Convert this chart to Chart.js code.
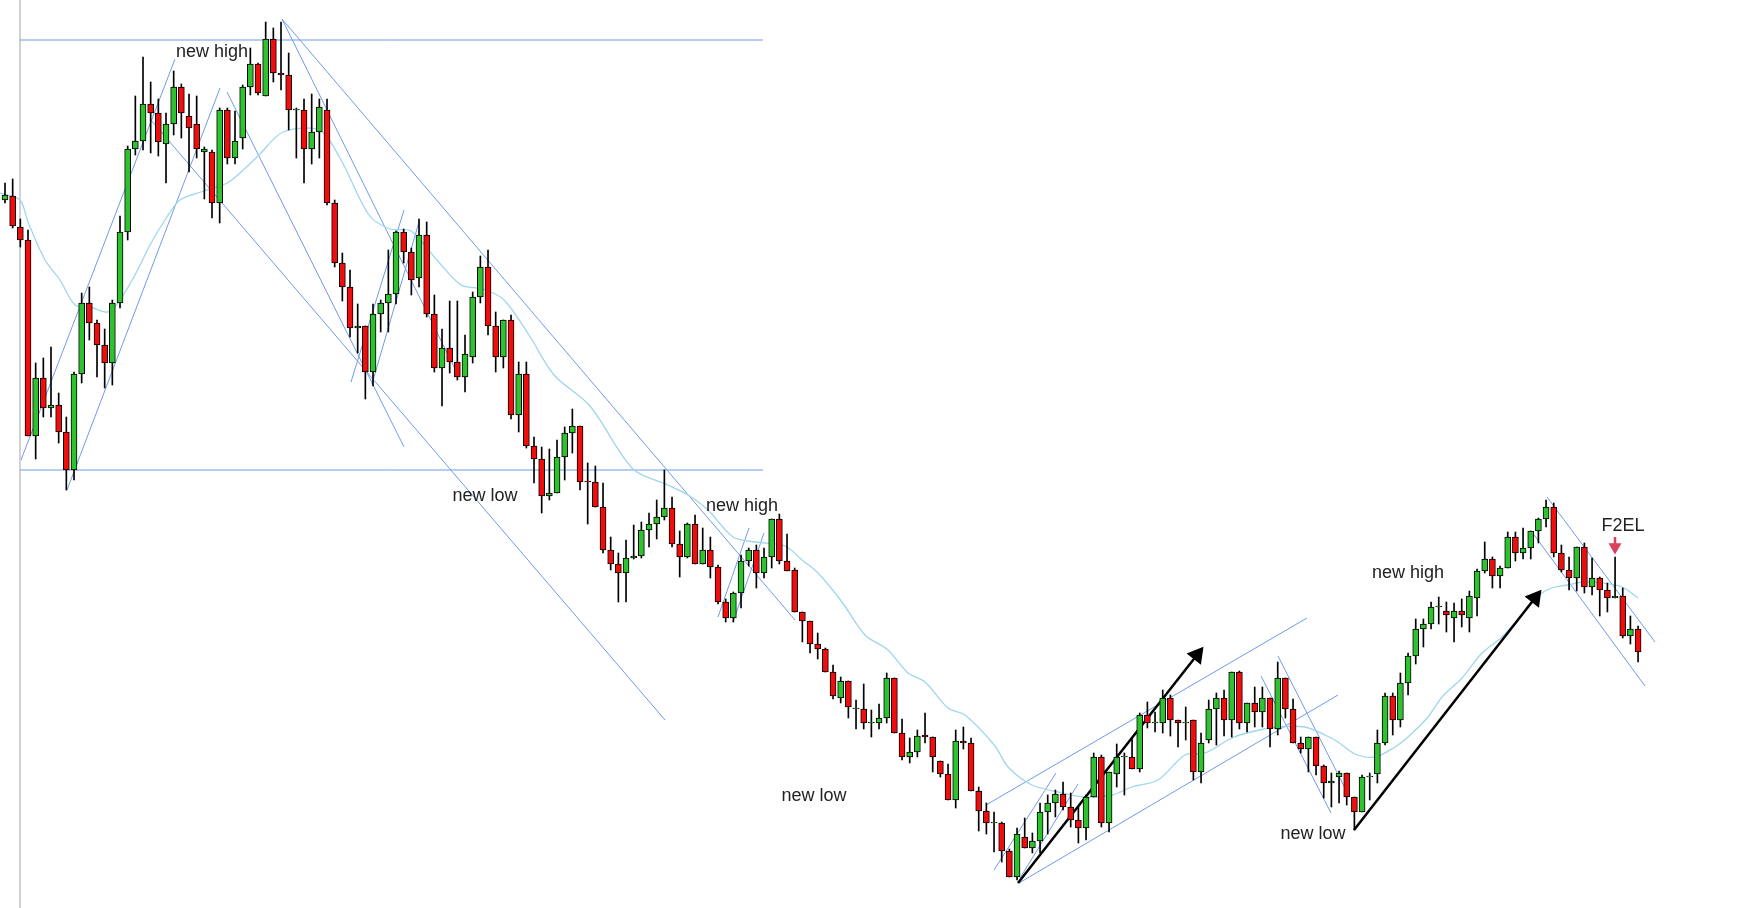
<!DOCTYPE html>
<html>
<head>
<meta charset="utf-8">
<script src="https://cdn.jsdelivr.net/npm/chart.js@4/dist/chart.umd.min.js"></script>
<style>
  html, body { margin: 0; padding: 0; background: #fff; }
  #wrap { position: relative; width: 1737px; height: 908px; }
  .lbl { position: absolute; font: 18px "Liberation Sans", Arial, sans-serif; color: #222; transform: translate(-50%, -50%); white-space: nowrap; }
</style>
</head>
<body>
<div id="wrap">
  <canvas id="chart" width="1737" height="908"></canvas>
</div>
<script>
// price levels (axis is inverted: smaller number = higher)
var opens  = [200,196,227,240,436,378,408,405,432,470,374,303,323,345,363,303,232,149,141,104,113,144,124,87,116,124,152,152,203,110,158,138,87,64,96,39,73,75,110,110,149,132,110,203,263,287,328,326,372,314,303,294,232,252,278,235,314,368,348,362,377,357,297,267,326,357,320,415,374,446,459,496,493,457,433,426,481,482,507,550,564,573,558,556,530,524,517,508,544,557,524,564,550,567,602,618,593,561,550,573,557,519,561,570,612,621,644,649,672,698,681,709,709,723,723,718,678,733,757,752,735,737,761,774,800,741,743,791,811,823,823,851,877,837,848,841,812,803,794,807,820,828,797,757,823,774,757,757,769,715,723,723,698,720,723,720,772,740,709,698,720,672,723,703,712,698,729,678,709,743,749,737,766,783,777,773,797,812,777,774,743,696,720,683,656,629,624,607,611,618,611,618,598,571,559,576,568,537,553,548,531,519,507,553,570,578,547,587,578,590,598,596,636,629];
var closes = [195,226,240,436,378,408,405,432,470,374,303,323,345,363,303,232,149,141,104,113,142,124,87,113,128,149,149,203,110,158,141,87,64,93,39,73,75,110,109,149,132,107,203,263,287,328,326,372,314,303,294,232,252,280,235,314,368,348,362,377,354,297,267,326,357,320,415,374,446,459,496,493,457,433,426,482,482,507,550,564,573,558,556,530,524,517,508,544,557,524,564,550,567,602,618,593,561,550,573,557,519,561,571,612,621,644,649,672,696,681,707,708,723,722,718,678,733,757,752,736,737,757,774,800,741,743,791,811,823,822,851,877,834,848,841,812,803,794,807,820,828,797,757,823,772,757,756,769,715,723,722,698,720,723,722,772,743,709,698,720,672,723,703,712,698,729,678,709,743,749,737,766,783,781,773,797,812,777,776,743,696,720,683,656,629,624,607,606,615,611,615,596,571,559,576,568,537,553,548,531,519,507,553,570,578,547,587,578,590,598,596,636,629,652];
var highs  = [183,179,219,230,363,358,347,393,417,372,293,287,320,329,300,216,146,96,57,82,99,113,71,84,94,96,147,150,108,108,111,85,48,63,22,28,22,53,108,99,94,99,99,200,253,270,304,326,304,300,250,231,229,248,219,222,295,329,301,301,335,292,256,250,312,320,315,362,362,437,447,449,440,427,409,426,463,466,483,537,553,540,525,522,513,500,470,497,531,523,515,528,537,565,599,592,555,548,545,548,519,514,534,568,612,621,633,648,665,677,681,700,684,710,704,673,678,719,738,730,713,737,761,764,730,727,738,787,803,812,822,849,828,818,833,803,795,790,782,793,807,795,753,755,772,744,753,738,713,702,712,690,695,720,707,720,733,700,693,690,672,671,703,687,687,698,662,678,699,737,737,737,765,773,771,773,797,775,773,730,693,693,673,653,619,619,602,597,602,603,599,591,569,542,557,566,532,532,528,531,518,500,503,545,557,547,543,558,577,583,557,588,616,626];
var lows   = [203,228,247,436,459,417,417,443,490,480,383,340,377,388,385,308,240,155,150,153,156,183,135,138,172,158,199,218,223,164,164,149,95,95,96,82,90,130,158,183,164,158,205,267,301,337,353,399,386,332,332,304,263,295,287,317,372,406,373,380,392,363,303,335,372,368,419,432,448,483,513,500,493,480,453,490,524,507,553,570,602,602,559,558,547,539,520,547,577,558,564,564,578,604,622,622,608,566,588,578,568,564,571,612,642,653,659,672,699,703,718,729,729,737,729,723,733,760,763,757,743,772,777,800,808,749,791,831,834,852,862,877,880,848,853,853,834,817,810,827,843,840,797,827,832,787,795,769,772,728,732,733,736,747,740,780,783,743,745,736,737,729,732,727,727,747,735,718,743,753,772,775,798,807,803,805,830,812,800,783,745,735,727,695,664,647,629,624,632,642,627,632,616,573,588,588,568,561,559,559,543,527,557,572,590,591,593,595,616,612,598,638,644,662];

// moving average trace
var maX = [0,20,28,45,60,75,90,108,120,135,150,165,180,204,229,258,283,319,340,369,390,411,436,461,483,504,529,554,590,633,668,688,708,733,755,785,802,818,842,865,888,908,925,948,965,995,1008,1032,1058,1085,1112,1132,1158,1185,1205,1232,1255,1278,1305,1325,1338,1355,1375,1395,1408,1428,1442,1462,1482,1502,1522,1542,1555,1568,1582,1602,1622,1638];
var maY = [193,200,222,260,280,305,307,312,300,275,245,220,200,191,182,156,132,130,158,215,229,231,259,285,289,300,335,375,406,469,485,495,510,537,542,546,560,573,602,635,650,673,682,708,715,746,767,785,792,797,795,787,780,755,753,738,731,727,727,735,742,754,757,747,737,717,697,678,653,637,615,593,587,585,582,583,587,598];

// trend lines [x1, y1, x2, y2]
var trendLines = [
  [20,40,763,40], [20,470,763,470],
  [21,460,175,59], [67,490,220,88],
  [282,19,795,620], [282,19,458,375], [227,92,404,447], [151,120,665,720],
  [351,382,404,210], [372,384,419,222],
  [718,617,749,528], [733,622,764,533],
  [986,805,1307,618], [1019,883,1338,695],
  [994,870,1056,773], [1020,878,1078,784],
  [1261,676,1331,813], [1278,656,1347,792],
  [1547,497,1655,642], [1532,532,1645,686]
];
var arrows = [[1018,883,1197,655], [1354,830,1535,598]];

var labels = [
  ['new high', 212, 51], ['new low', 485, 495], ['new high', 742, 505],
  ['new low', 814, 795], ['new high', 1408, 572], ['new low', 1313, 833], ['F2EL', 1623, 525]
];

var firstX = 5, step = 7.667;
var xs = opens.map(function (o, i) { return firstX + i * step; });

var wickData = xs.map(function (x, i) { return { x: x, y: [lows[i], highs[i]] }; });
var bodyData = xs.map(function (x, i) {
  var o = opens[i], c = closes[i];
  if (Math.abs(o - c) < 1) { c = o + (c <= o ? -1 : 1); }
  return { x: x, y: [o, c] };
});
var bodyColors = opens.map(function (o, i) { return closes[i] <= o ? '#2fc22f' : '#f20d0d'; });

var datasets = [];
datasets.push({ type: 'bar', data: bodyData, backgroundColor: bodyColors, borderColor: '#000', borderWidth: 1,
  borderSkipped: false, barThickness: 6, grouped: false, order: 0 });
datasets.push({ type: 'bar', data: wickData, backgroundColor: '#000', borderWidth: 0,
  barThickness: 1, grouped: false, order: 1 });

datasets.push({ type: 'line', data: maX.map(function (x, i) { return { x: x, y: maY[i] }; }),
  borderColor: '#9fd6ee', borderWidth: 1.3, pointRadius: 0, tension: 0.3, order: 3 });

trendLines.forEach(function (l) {
  datasets.push({ type: 'line', data: [{ x: l[0], y: l[1] }, { x: l[2], y: l[3] }],
    borderColor: '#6f9be8', borderWidth: 1, pointRadius: 0, order: 4 });
});
// grey axis line on the left
datasets.push({ type: 'line', data: [{ x: 20, y: 0 }, { x: 20, y: 908 }],
  borderColor: '#c4c4c4', borderWidth: 1.5, pointRadius: 0, order: 5 });

arrows.forEach(function (a) {
  var ang = Math.atan2(a[2] - a[0], a[1] - a[3]) * 180 / Math.PI;
  datasets.push({ type: 'line', data: [{ x: a[0], y: a[1] }, { x: a[2], y: a[3] }],
    borderColor: '#000', borderWidth: 2.5, pointStyle: 'triangle', backgroundColor: '#000',
    pointRadius: [0, 8], pointRotation: ang, order: 2 });
});
// small red down arrow above F2EL candle
datasets.push({ type: 'line', data: [{ x: 1615, y: 537 }, { x: 1615, y: 547 }],
  borderColor: '#d9415e', borderWidth: 2.5, backgroundColor: '#d9415e', pointStyle: 'triangle',
  pointRadius: [0, 5], pointRotation: 180, order: 2 });

new Chart(document.getElementById('chart'), {
  type: 'bar',
  data: { datasets: datasets },
  options: {
    responsive: false,
    animation: false,
    clip: false,
    layout: { padding: 0, autoPadding: false },
    plugins: { legend: { display: false }, tooltip: { enabled: false } },
    scales: {
      x: { type: 'linear', min: 0, max: 1737, offset: false, display: false },
      y: { type: 'linear', min: 0, max: 908, reverse: true, display: false }
    }
  }
});

var wrap = document.getElementById('wrap');
labels.forEach(function (t) {
  var d = document.createElement('div');
  d.className = 'lbl';
  d.textContent = t[0];
  d.style.left = t[1] + 'px';
  d.style.top = t[2] + 'px';
  wrap.appendChild(d);
});
</script>
</body>
</html>
